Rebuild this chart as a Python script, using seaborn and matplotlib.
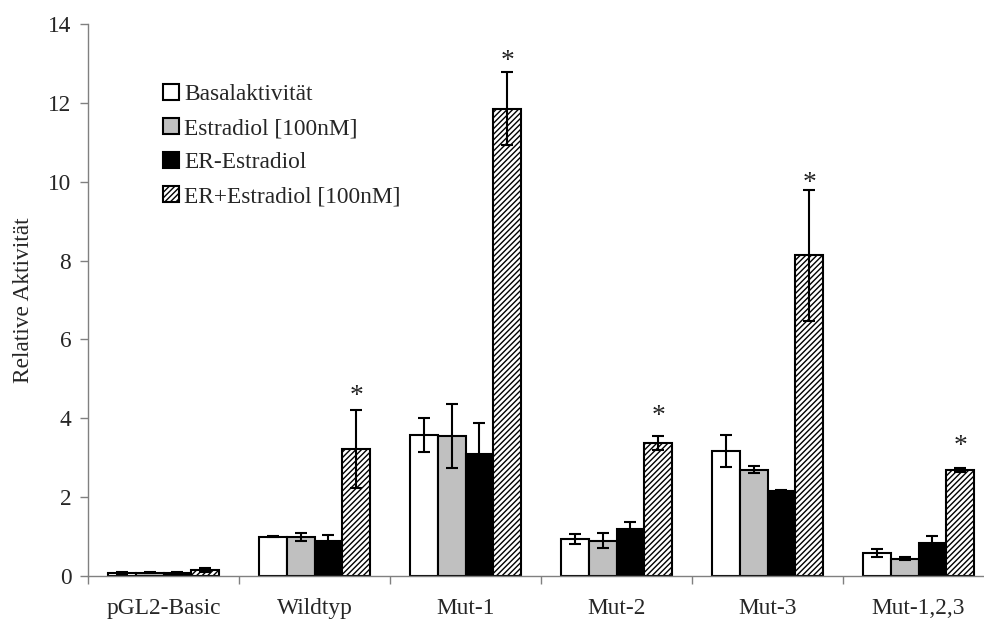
import numpy as np
import pandas as pd
import matplotlib
matplotlib.use("Agg")
import matplotlib.pyplot as plt
import seaborn as sns

categories = ['pGL2-Basic', 'Wildtyp', 'Mut-1', 'Mut-2', 'Mut-3', 'Mut-1,2,3']
series = ['Basalaktivität', 'Estradiol [100nM]', 'ER-Estradiol', 'ER+Estradiol [100nM]']

basal = [0.08, 1.00, 3.58, 0.93, 3.17, 0.58]
basal_err = [0.02, 0.02, 0.43, 0.13, 0.40, 0.11]
estradiol = [0.08, 0.98, 3.55, 0.90, 2.70, 0.44]
estradiol_err = [0.01, 0.10, 0.81, 0.19, 0.09, 0.04]
er = [0.07, 0.88, 3.10, 1.18, 2.16, 0.84]
er_err = [0.02, 0.16, 0.77, 0.19, 0.03, 0.18]
er_e2 = [0.15, 3.22, 11.85, 3.38, 8.13, 2.70]
er_e2_err = [0.05, 1.00, 0.93, 0.18, 1.67, 0.05]

# significance stars (category index, star centre value)
star_cats = [1, 2, 3, 4, 5]
star_y = [4.72, 13.21, 4.21, 10.12, 3.45]

colors = ['white', '#c0c0c0', 'black', 'white']

sns.set_theme(style='white')
plt.rcParams['font.family'] = ['Liberation Serif', 'DejaVu Serif']
plt.rcParams['hatch.linewidth'] = 1.0
FS = 16.8

values = [basal, estradiol, er, er_e2]
errors = [basal_err, estradiol_err, er_err, er_e2_err]
rows = []
for s, vals in zip(series, values):
    for c, v in zip(categories, vals):
        rows.append({'cat': c, 'series': s, 'value': v})
df = pd.DataFrame(rows)

fig = plt.figure(figsize=(9.84, 6.21), dpi=100)
ax = fig.add_axes([88 / 984, 45 / 621, (984 - 88) / 984, 552 / 621])

sns.barplot(data=df, x='cat', y='value', hue='series', order=categories,
            hue_order=series, palette=colors, saturation=1, width=0.735,
            edgecolor='black', linewidth=1.5, errorbar=None, legend=False, ax=ax)

bar_conts = list(ax.containers)
for i, cont in enumerate(bar_conts):
    xs = [p.get_x() + p.get_width() / 2 for p in cont.patches]
    ys = [p.get_height() for p in cont.patches]
    if i == 3:
        for p in cont.patches:
            p.set_hatch('//////')
    ax.errorbar(xs, ys, yerr=errors[i], fmt='none', ecolor='black',
                elinewidth=1.5, capsize=4.3, capthick=1.5, zorder=5)

# stars centred above the hatched bars
hatched = bar_conts[3].patches
for ci, sy in zip(star_cats, star_y):
    p = hatched[ci]
    ax.text(p.get_x() + p.get_width() / 2, sy - 0.32, '*', ha='center',
            va='baseline', fontsize=FS + 3, color='#222222')

ax.set_xlim(-0.5, -0.5 + (984 - 88) / 151)
ax.set_ylim(0, 14)
ax.set_yticks(np.arange(0, 15, 2))
ax.set_yticklabels([str(v) for v in range(0, 15, 2)], fontsize=FS)
ax.set_xticks(np.arange(-0.5, 5.5, 1))
ax.set_xticklabels([])
ax.set_xticks(np.arange(len(categories)), minor=True)
ax.set_xticklabels(categories, minor=True, fontsize=FS)
ax.tick_params(axis='x', which='major', length=6, width=1, color='#808080', direction='out', bottom=True)
ax.tick_params(axis='x', which='minor', length=0, pad=16)
ax.tick_params(axis='y', length=6, width=1, color='#808080', direction='out', left=True, pad=6)
ax.set_xlabel('')
ax.set_ylabel('Relative Aktivität', fontsize=FS)
ax.yaxis.set_label_coords(-0.06, 0.5)

for s in ['top', 'right']:
    ax.spines[s].set_visible(False)
for s in ['left', 'bottom']:
    ax.spines[s].set_color('#808080')
    ax.spines[s].set_linewidth(1.0)

ax.legend(bar_conts, series, loc='upper left',
          bbox_to_anchor=(0.0837, 0.8916), frameon=False, fontsize=FS,
          handlelength=0.68, handleheight=0.68, handletextpad=0.22,
          labelspacing=0.55, borderpad=0, borderaxespad=0)

fig.savefig('out.png', dpi=100)
